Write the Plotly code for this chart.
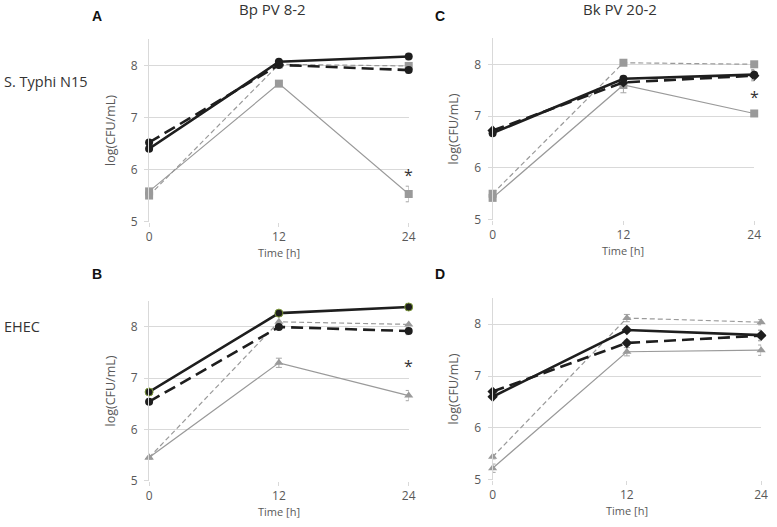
import plotly.graph_objects as go

W, H = 777, 527
TEXT = "#595959"
GRID = "#D9D9D9"
BLACK = "#1E1E1E"
GRAY = "#9A9A9A"
FONT = "Open Sans, Liberation Sans, sans-serif"

TIME = [0, 12, 24]

# Panel A: S. Typhi N15 / Bp PV 8-2
A_SOLID_BLACK = [6.40, 8.07, 8.17]
A_DASH_BLACK = [6.52, 8.01, 7.91]
A_DASH_GRAY = [5.50, 8.02, 7.99]
A_SOLID_GRAY = [5.58, 7.65, 5.53]
A_ERR_SOLID_GRAY = [0.05, 0.05, 0.15]
A_ERR_BLACK = [0.03, 0.04, 0.06]

# Panel C: S. Typhi N15 / Bk PV 20-2
C_SOLID_BLACK = [6.67, 7.72, 7.80]
C_DASH_BLACK = [6.72, 7.65, 7.78]
C_DASH_GRAY = [5.50, 8.03, 8.00]
C_SOLID_GRAY = [5.42, 7.60, 7.05]
C_ERR_SOLID_GRAY = [0.05, 0.15, 0.04]
C_ERR_BLACK = [0.04, 0.05, 0.10]

# Panel B: EHEC / Bp PV 8-2
B_SOLID_BLACK = [6.73, 8.27, 8.39]
B_DASH_BLACK = [6.54, 8.00, 7.92]
B_DASH_GRAY = [5.45, 8.10, 8.05]
B_SOLID_GRAY = [5.45, 7.30, 6.66]
B_ERR_SOLID_GRAY = [0.03, 0.09, 0.10]
B_ERR_BLACK = [0.03, 0.05, 0.07]

# Panel D: EHEC / Bk PV 20-2
D_SOLID_BLACK = [6.60, 7.89, 7.79]
D_DASH_BLACK = [6.70, 7.64, 7.78]
D_DASH_GRAY = [5.44, 8.12, 8.04]
D_SOLID_GRAY = [5.22, 7.47, 7.50]
D_ERR_SOLID_GRAY = [0.08, 0.08, 0.10]
D_ERR_GRAY_DASH = [0.04, 0.07, 0.05]
D_ERR_BLACK = [0.03, 0.05, 0.10]

# significance stars (x, y) per panel
STARS = {"A": (24, 5.9), "C": (24, 7.37), "B": (24, 7.23)}


def px_x(p):
    return p / W


def px_y(p):
    return 1 - p / H


# pixel frames of each panel: (x0, x1, ybottom, ytop)
FRAMES = {
    "A": (148, 411, 225, 40),
    "C": (496, 761, 223, 39),
    "B": (148, 411, 488, 306),
    "D": (496, 768, 487, 303),
}

PANELS = {
    "A": dict(axis="", series=[A_SOLID_BLACK, A_DASH_BLACK, A_DASH_GRAY, A_SOLID_GRAY],
              err=[A_ERR_BLACK, A_ERR_BLACK, None, A_ERR_SOLID_GRAY],
              bmark=["circle", "circle"], gmark="square"),
    "C": dict(axis="2", series=[C_SOLID_BLACK, C_DASH_BLACK, C_DASH_GRAY, C_SOLID_GRAY],
              err=[C_ERR_BLACK, C_ERR_BLACK, None, C_ERR_SOLID_GRAY],
              bmark=["circle", "diamond"], gmark="square"),
    "B": dict(axis="3", series=[B_SOLID_BLACK, B_DASH_BLACK, B_DASH_GRAY, B_SOLID_GRAY],
              err=[B_ERR_BLACK, B_ERR_BLACK, None, B_ERR_SOLID_GRAY],
              bmark=["circle", "circle"], gmark="triangle-up"),
    "D": dict(axis="4", series=[D_SOLID_BLACK, D_DASH_BLACK, D_DASH_GRAY, D_SOLID_GRAY],
              err=[D_ERR_BLACK, D_ERR_BLACK, D_ERR_GRAY_DASH, D_ERR_SOLID_GRAY],
              bmark=["diamond", "diamond"], gmark="triangle-up"),
}

fig = go.Figure()

for key, p in PANELS.items():
    xa, ya = "x" + p["axis"], "y" + p["axis"]
    styles = [
        dict(color=BLACK, width=2.6, dash="solid", marker=p["bmark"][0]),
        dict(color=BLACK, width=2.6, dash="12px,6px", marker=p["bmark"][1]),
        dict(color=GRAY, width=1.2, dash="5px,3px", marker=p["gmark"]),
        dict(color=GRAY, width=1.2, dash="solid", marker=p["gmark"]),
    ]
    # draw gray lines first, black on top
    for idx in [3, 2, 1, 0]:
        s = styles[idx]
        err = p["err"][idx]
        mline = dict(width=0)
        if key == "B" and idx == 0:
            mline = dict(width=1, color="#7E9A3A")
        fig.add_trace(go.Scatter(
            x=TIME, y=p["series"][idx], xaxis=xa, yaxis=ya,
            mode="lines+markers", showlegend=False, cliponaxis=False,
            line=dict(color=s["color"], width=s["width"], dash=s["dash"]),
            marker=dict(symbol=s["marker"], size=8, color=s["color"], line=mline),
            error_y=dict(type="data", array=err, visible=err is not None,
                         color="#A6A6A6", thickness=1, width=3),
        ))


def note(text, x, y, size, color="#333333", family=FONT, xanchor="center", **kw):
    return dict(text=text, x=x, y=y, showarrow=False, xanchor=xanchor, yanchor="middle",
                font=dict(size=size, color=color, family=family), **kw)


annotations = []
for key, (x0, x1, yb, yt) in FRAMES.items():
    suffix = PANELS[key]["axis"]
    fig.layout["xaxis" + suffix] = dict(
        domain=[px_x(x0), px_x(x1)], range=[0, 24], anchor="y" + suffix,
        tickvals=TIME, ticktext=["0", "12", "24"], showgrid=False, zeroline=False,
        showline=False, ticks="outside", ticklen=4, tickcolor=GRID,
        ticklabelstandoff=0, ticklabeloverflow="allow",
        tickfont=dict(size=12, color=TEXT, family=FONT),
    )
    fig.layout["yaxis" + suffix] = dict(
        domain=[px_y(yb), px_y(yt)], range=[5, 8.5], anchor="x" + suffix,
        tickvals=[5, 6, 7, 8], showgrid=True, gridcolor=GRID, gridwidth=1,
        zeroline=False, showline=True, linecolor=GRID, linewidth=1,
        ticks="outside", ticklen=4, tickcolor=GRID, ticklabelstandoff=4,
        tickfont=dict(size=12, color=TEXT, family=FONT),
        title=dict(text="log(CFU/mL)", font=dict(size=12.5, color=TEXT, family=FONT), standoff=12),
    )
    # x axis title below the tick labels
    annotations.append(note("Time [h]", px_x((x0 + x1) / 2), px_y(yb + 31), 11, TEXT,
                            xref="paper", yref="paper"))
    if key in STARS:
        sx, sy = STARS[key]
        annotations.append(note("*", sx, sy, 16, xref="x" + suffix, yref="y" + suffix))

# panel letters
for letter, (lx, ly) in {"A": (95, 16), "C": (443, 16), "B": (95, 278), "D": (443, 278)}.items():
    annotations.append(note("<b>" + letter + "</b>", px_x(lx), px_y(ly), 14, "#111111",
                            "Liberation Sans, Arial", xref="paper", yref="paper"))

# column titles
for txt, cx in [("Bp PV 8-2", 273), ("Bk PV 20-2", 625)]:
    annotations.append(note(txt, px_x(cx), px_y(9), 15, xref="paper", yref="paper"))

# row labels
for txt, cy in [("S. Typhi N15", 83), ("EHEC", 332)]:
    annotations.append(note(txt, 0, px_y(cy), 14.5, xanchor="left", xshift=-1,
                            xref="paper", yref="paper"))

fig.update_layout(
    width=W, height=H,
    margin=dict(l=0, r=0, t=0, b=0),
    paper_bgcolor="white", plot_bgcolor="white",
    font=dict(family=FONT, color=TEXT),
    annotations=annotations,
)

fig.write_html("out.html", config={"displayModeBar": False},
               post_script="document.body.style.margin = '0px';")
